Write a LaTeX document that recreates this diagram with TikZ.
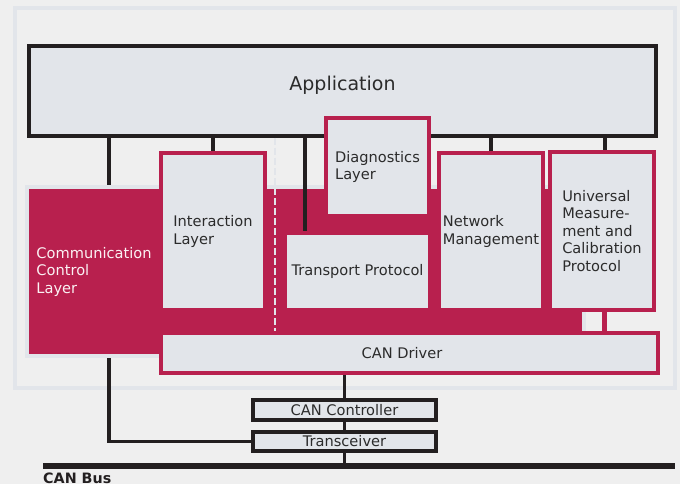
\documentclass[tikz,border=0pt]{standalone}
\usepackage{fontspec}
\setmainfont{DejaVu Sans}

\definecolor{crimson}{HTML}{B8204E}
\definecolor{boxfill}{HTML}{E2E5EA}
\definecolor{paper}{HTML}{EFEFEF}
\definecolor{ink}{HTML}{231F20}
\definecolor{txt}{HTML}{2B2B2B}

\begin{document}
\begin{tikzpicture}[x=1pt, y=-1pt]
    \tikzset{caption/.style = {inner sep=0pt, align=left, text=txt, font=\fontsize{14.6}{17.5}\selectfont}}
    \tikzset{redbox/.style = {caption, shape=rectangle, fill=boxfill, draw=crimson, line width=4pt}}
    \tikzset{blackbox/.style = {caption, shape=rectangle, fill=boxfill, draw=ink, line width=4pt}}
    \tikzset{wire/.style = {draw=ink, line width=4pt}}

    \useasboundingbox (0,0) rectangle (680,484);
    \fill[paper] (0,0) rectangle (680,484);
    \draw[boxfill, line width=4pt] (15,8) rectangle (674.5,388);

    % layers
    \node[blackbox, minimum width=627pt, minimum height=90pt] (app) at (342.5,91) {};
    \node[caption, anchor=base, font=\fontsize{19}{23}\selectfont] (applbl) at (342.5,90.5) {Application};

    \fill[crimson, draw=boxfill, line width=4pt] (27,187) -- (584,187) -- (584,333) -- (161,333) -- (161,356) -- (27,356) -- cycle;
    \node[caption, text=white!94!crimson, minimum width=130pt, minimum height=173pt] (cc) at (94,271.5) {Communication\\Control\\Layer};

    \node[redbox, minimum width=104pt, minimum height=157pt] (inter) at (213,231.5) {Interaction\\Layer};
    \node[redbox, minimum width=145pt, minimum height=77pt] (trans) at (357.5,271.5) {Transport Protocol};
    \node[redbox, minimum width=104pt, minimum height=157pt] (netm) at (491,231.5) {Network\\Management};
    \node[redbox, minimum width=104pt, minimum height=158pt] (ucp) at (602,231) {Universal\\Measure-\\ment and\\Calibration\\Protocol};

    % links
    \coordinate (cctop) at ([xshift=15pt]cc.north);
    \coordinate (ccbot) at ([xshift=15pt]cc.south);
    \coordinate (tptop) at ([xshift=-52.5pt]trans.north);
    \coordinate (dash) at ([xshift=8pt]inter.east);
    \coordinate (ucplink) at ([xshift=2.5pt]ucp.north);
    \coordinate (ucpdown) at ([xshift=2.5pt]ucp.south);
    \coordinate (busl) at (43,466);
    \coordinate (busr) at (675,466);

    \draw[boxfill, line width=2.2pt, dash pattern=on 7pt off 3pt] (dash |- app.south) to (dash |- 0,333);
    \draw[wire] (cctop |- app.south) to (cctop);
    \draw[wire] (inter.north |- app.south) to (inter.north);
    \draw[wire] (tptop |- app.south) to (tptop);
    \draw[wire] (netm.north |- app.south) to (netm.north);
    \draw[wire] (ucplink |- app.south) to (ucplink);

    \node[redbox, minimum width=103pt, minimum height=98pt] (diag) at (377.5,167) {Diagnostics\\Layer};
    \node[redbox, minimum width=497pt, minimum height=40pt] (drv) at (409.5,353) {};
    \node[caption] (drvlbl) at (402,353) {CAN Driver};
    \draw[crimson, line width=5pt] (ucpdown) to (ucpdown |- drv.north);

    \node[blackbox, line width=3.5pt, minimum width=183pt, minimum height=20pt] (ctrl) at (344.5,410) {CAN Controller};
    \node[blackbox, line width=3.5pt, minimum width=183pt, minimum height=19pt] (trx) at (344.5,441.5) {Transceiver};

    \draw[wire, line width=3.5pt] (ctrl.north |- drv.south) to (ctrl.north);
    \draw[wire, line width=3.5pt] (ctrl.south) to (trx.north);
    \draw[wire, line width=3.5pt] (trx.south) to (trx.south |- busl);
    \draw[wire, line width=3.5pt] (ccbot) |- (trx.west);

    % bus
    \draw[ink, line width=6pt] (busl) to (busr);
    \node[caption, anchor=base west, text=ink, font=\bfseries\fontsize{14.3}{17}\selectfont] (buslbl) at (43,483) {CAN Bus};
\end{tikzpicture}
\end{document}
